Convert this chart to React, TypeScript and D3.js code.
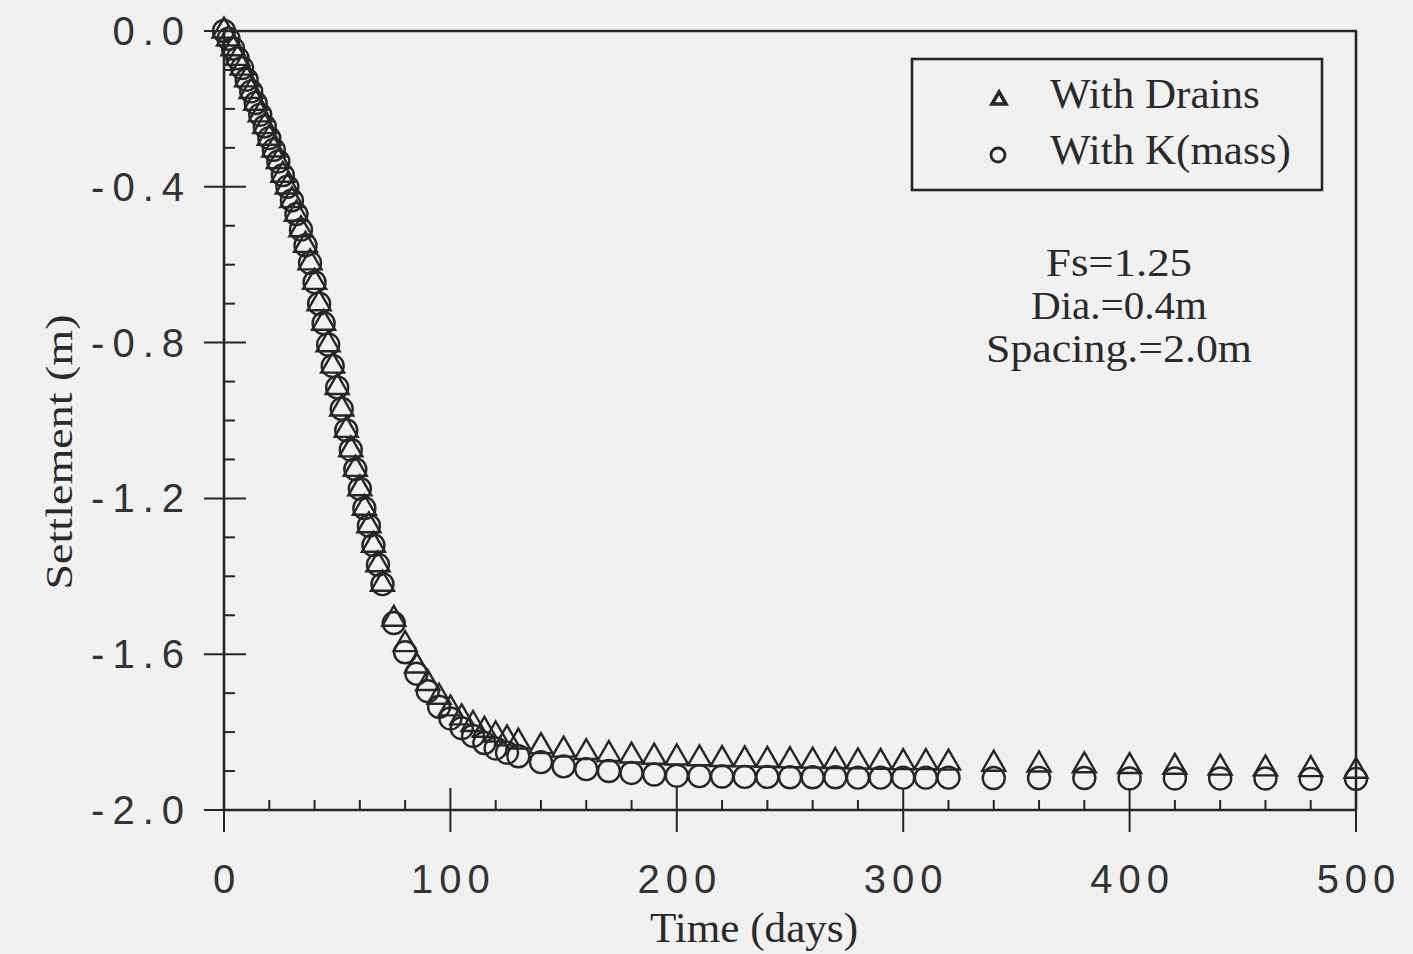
import React from "react";
import * as d3 from "d3";

const times = [
  0, 2, 4, 6, 8, 10, 12, 14, 16, 18, 20, 22, 24, 26, 28, 30, 32, 34, 36, 38, 40, 42, 44, 46, 48, 50, 52, 54, 56, 58, 60, 62, 64, 66, 68, 70,
  75, 80, 85, 90, 95, 100, 105, 110, 115, 120, 125, 130,
  140, 150, 160, 170, 180, 190, 200, 210, 220, 230, 240, 250, 260, 270, 280, 290, 300, 310, 320,
  340, 360, 380, 400, 420, 440, 460, 480, 500,
];

const withKMass = [
  0, -0.02, -0.045, -0.07, -0.095, -0.125, -0.155, -0.185, -0.215, -0.245, -0.275, -0.305, -0.335, -0.37, -0.4, -0.435, -0.47, -0.51,
  -0.55, -0.595, -0.645, -0.7, -0.75, -0.805, -0.86, -0.915, -0.97, -1.025, -1.075, -1.125, -1.175, -1.225, -1.27, -1.32, -1.37, -1.42,
  -1.52, -1.595, -1.65, -1.695, -1.735, -1.765, -1.79, -1.81, -1.828, -1.842, -1.853, -1.862,
  -1.877, -1.888, -1.895, -1.9, -1.905, -1.909, -1.912, -1.913, -1.914, -1.915, -1.915, -1.916, -1.916, -1.916, -1.917, -1.917, -1.917, -1.917, -1.917,
  -1.918, -1.918, -1.918, -1.919, -1.919, -1.919, -1.919, -1.92, -1.92,
];

const withDrains = [
  0, -0.02, -0.045, -0.07, -0.095, -0.125, -0.155, -0.185, -0.215, -0.245, -0.275, -0.305, -0.335, -0.37, -0.4, -0.435, -0.47, -0.51,
  -0.55, -0.595, -0.645, -0.7, -0.75, -0.805, -0.86, -0.915, -0.97, -1.025, -1.075, -1.125, -1.175, -1.225, -1.27, -1.32, -1.37, -1.42,
  -1.51, -1.575, -1.63, -1.675, -1.71, -1.74, -1.763, -1.78, -1.795, -1.807, -1.817, -1.825,
  -1.837, -1.846, -1.852, -1.857, -1.861, -1.864, -1.866, -1.868, -1.87, -1.871, -1.872, -1.873, -1.874, -1.875, -1.876, -1.877, -1.878, -1.878, -1.879,
  -1.882, -1.884, -1.886, -1.888, -1.89, -1.892, -1.894, -1.896, -1.9,
];

const xTicks = [0, 100, 200, 300, 400, 500];
const yTicks = [0, -0.4, -0.8, -1.2, -1.6, -2.0];
const yTickLabels = ["0.0", "-0.4", "-0.8", "-1.2", "-1.6", "-2.0"];
const legendLabels = ["With Drains", "With K(mass)"];
const noteLines = ["Fs=1.25", "Dia.=0.4m", "Spacing.=2.0m"];

const W = 1413;
const H = 954;
const INK = "#262626";
const SERIF = "'Liberation Serif', 'Times New Roman', serif";
const SANS = "'Liberation Sans', Arial, Helvetica, sans-serif";

export default function App() {
  const x = d3.scaleLinear().domain([0, 500]).range([224, 1356]);
  const y = d3.scaleLinear().domain([0, -2]).range([31, 810]);
  const x0 = x(0), x1 = x(500), y0 = y(0), y1 = y(-2);

  const xMinor = d3.range(0, 501, 20).filter((v) => v % 100 !== 0);
  const yMinor = d3.range(1, 20).filter((i) => i % 4 !== 0).map((i) => -i / 10);

  const tri = d3.symbol().type(d3.symbolTriangle).size(230)() as string;
  const triSmall = d3.symbol().type(d3.symbolTriangle).size(85)() as string;

  return (
    <svg width={W} height={H} style={{ position: "absolute", left: 0, top: 0, display: "block" }}>
      <rect x={0} y={0} width={W} height={H} fill="#f2f1f2" />

      {/* frame */}
      <g stroke={INK} strokeWidth={2.6} fill="none">
        <line x1={x0} y1={y0} x2={x1 + 1} y2={y0} />
        <line x1={x1} y1={y0} x2={x1} y2={y1} />
        <line x1={x0} y1={y0 - 1} x2={x0} y2={y1} />
        <line x1={x0} y1={y1} x2={x1 + 1} y2={y1} />
      </g>

      {/* ticks */}
      <g stroke={INK} strokeWidth={2}>
        {xTicks.map((t) => (
          <line key={"xm" + t} x1={x(t)} x2={x(t)} y1={t === 0 || t === 500 ? y1 : y1 - 22} y2={y1 + 22} />
        ))}
        {xMinor.map((t) => (
          <line key={"xn" + t} x1={x(t)} x2={x(t)} y1={y1 - 10} y2={y1} />
        ))}
        {yTicks.map((t) => (
          <line key={"ym" + t} x1={x0 - 20} x2={t === 0 || t === -2 ? x0 : x0 + 22} y1={y(t)} y2={y(t)} />
        ))}
        {yMinor.map((t) => (
          <line key={"yn" + t} x1={x0} x2={x0 + 11} y1={y(t)} y2={y(t)} />
        ))}
      </g>

      {/* tick labels */}
      <g fill="#333" fontFamily={SANS} fontSize={40}>
        {xTicks.map((t) => (
          <text key={"xl" + t} x={x(t) + 3} y={893} textAnchor="middle" letterSpacing={6}>
            {String(t)}
          </text>
        ))}
        {yTicks.map((t, i) => (
          <text key={"yl" + t} x={192} y={y(t) + 14} textAnchor="end" letterSpacing={8}>
            {yTickLabels[i]}
          </text>
        ))}
      </g>

      {/* axis titles */}
      <text x={754} y={942} textAnchor="middle" fontFamily={SERIF} fontSize={42} fill="#2a2a2a" textLength={208} lengthAdjust="spacingAndGlyphs">
        Time (days)
      </text>
      <text
        transform={`translate(72, 452) rotate(-90)`}
        textAnchor="middle"
        fontFamily={SERIF}
        fontSize={38}
        fill="#2a2a2a"
        textLength={275}
        lengthAdjust="spacingAndGlyphs"
      >
        Settlement (m)
      </text>

      {/* data markers */}
      <g fill="none" stroke={INK} strokeWidth={2.4}>
        {times.map((t, i) => (
          <circle key={"c" + i} cx={x(t)} cy={y(withKMass[i])} r={11} />
        ))}
        {times.map((t, i) => (
          <path key={"t" + i} d={tri} transform={`translate(${x(t)},${y(withDrains[i])})`} />
        ))}
      </g>

      {/* legend */}
      <rect x={912} y={59} width={410} height={131} fill="none" stroke={INK} strokeWidth={2.6} />
      <path d={triSmall} transform="translate(999,100)" fill="none" stroke={INK} strokeWidth={3.5} />
      <circle cx={998} cy={155} r={7} fill="none" stroke={INK} strokeWidth={2.8} />
      <g fontFamily={SERIF} fontSize={43} fill="#2a2a2a">
        <text x={1050} y={108}>{legendLabels[0]}</text>
        <text x={1050} y={164}>{legendLabels[1]}</text>
      </g>

      {/* annotation */}
      <g fontFamily={SERIF} fontSize={41} fill="#2a2a2a" textAnchor="middle">
        {noteLines.map((s, i) => (
          <text key={s} x={1119} y={276 + i * 43} textLength={[146, 176, 266][i]} lengthAdjust="spacingAndGlyphs">
            {s}
          </text>
        ))}
      </g>
    </svg>
  );
}
